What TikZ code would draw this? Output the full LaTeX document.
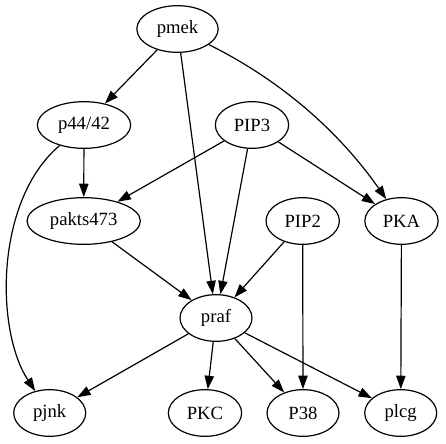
\documentclass[tikz,border=0pt]{standalone}
\usepackage{fontspec}
\setmainfont{Liberation Serif}
\newfontfamily\tmsfont{Liberation Serif}
\usetikzlibrary{shapes.geometric,arrows.meta}
\begin{document}
\begin{tikzpicture}[x=0.75pt,y=-0.75pt,
  nd/.style={draw,ellipse,line width=0.9pt,inner sep=0pt,minimum height=35pt,font=\tmsfont\fontsize{14}{16}\selectfont},
  edge/.style={line width=0.9pt,-{Triangle[length=10pt,width=7pt]}}]
\useasboundingbox (0,0) rectangle (446,443);
\node[nd,minimum width=61pt] (pmek) at (177.5,29) {pmek};
\node[nd,minimum width=70pt] (p44) at (84,125) {p44/42};
\node[nd,minimum width=55pt] (PIP3) at (252,125) {PIP3};
\node[nd,minimum width=85pt] (pakts) at (83.7,221) {pakts473};
\node[nd,minimum width=55pt] (PIP2) at (302.7,221) {PIP2};
\node[nd,minimum width=55pt] (PKA) at (401.5,221) {PKA};
\node[nd,minimum width=54pt] (praf) at (216,318) {praf};
\node[nd,minimum width=54pt] (pjnk) at (49.7,413) {pjnk};
\node[nd,minimum width=55pt] (PKC) at (205,413) {PKC};
\node[nd,minimum width=54pt] (P38) at (303,413) {P38};
\node[nd,minimum width=54pt] (plcg) at (400.7,413) {plcg};
\draw[edge] (pmek) -- (p44);
\draw[edge] (pmek) -- (praf);
\draw[edge] (pmek) .. controls (290,85) and (345,140) .. (PKA);
\draw[edge] (p44) -- (pakts);
\draw[edge] (p44) .. controls (-5,200) and (-5,330) .. (pjnk);
\draw[edge] (PIP3) -- (pakts);
\draw[edge] (PIP3) -- (praf);
\draw[edge] (PIP3) -- (PKA);
\draw[edge] (pakts) -- (praf);
\draw[edge] (PIP2) -- (praf);
\draw[edge] (PIP2) -- (P38);
\draw[edge] (PKA) -- (plcg);
\draw[edge] (praf) -- (pjnk);
\draw[edge] (praf) -- (PKC);
\draw[edge] (praf) -- (P38);
\draw[edge] (praf) -- (plcg);
\end{tikzpicture}
\end{document}
